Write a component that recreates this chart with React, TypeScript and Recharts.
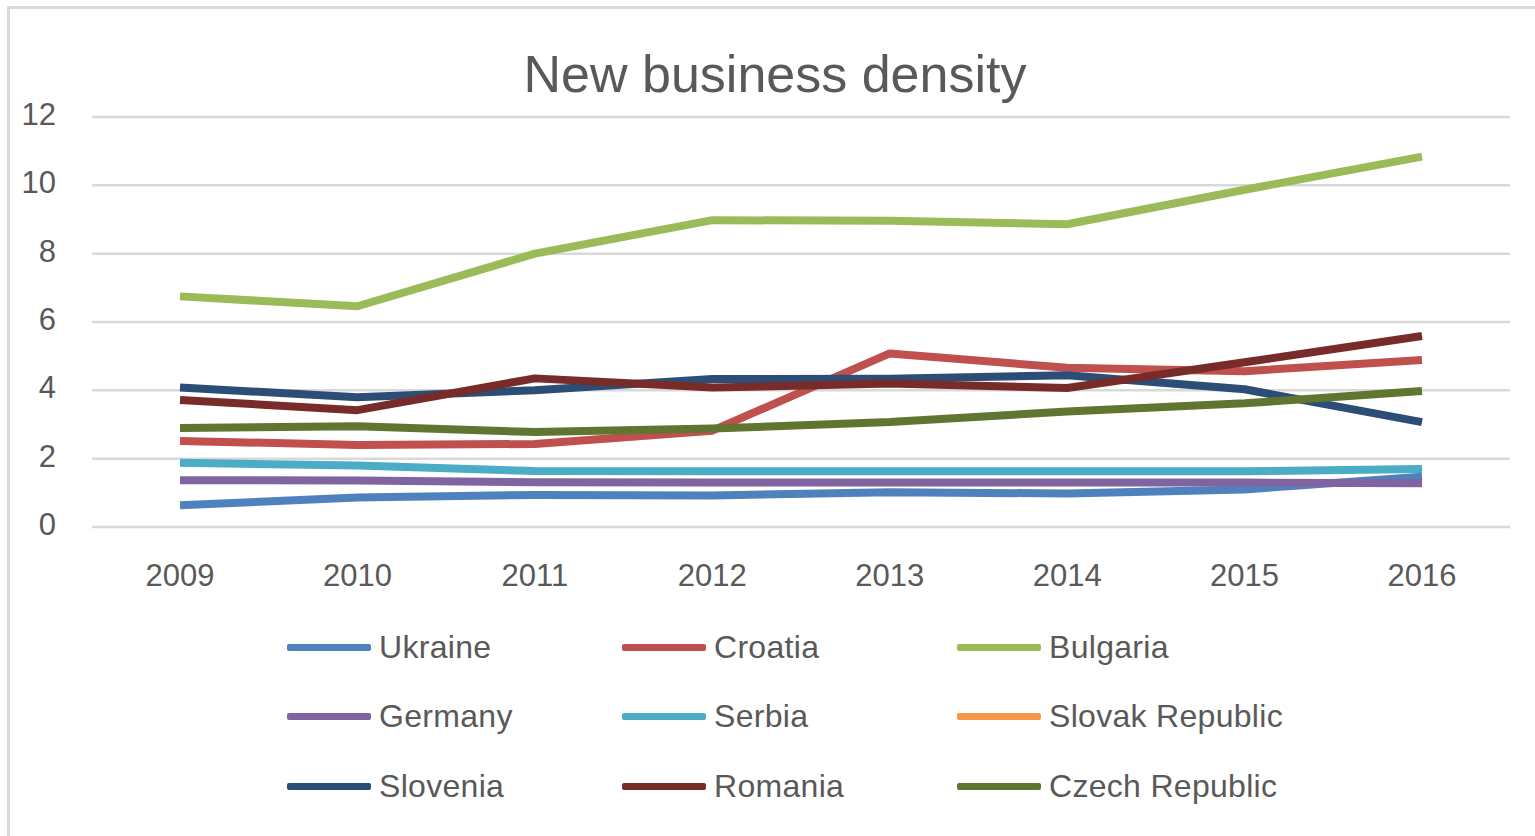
import React from 'react';
import { LineChart, Line, XAxis, YAxis, CartesianGrid, Legend } from 'recharts';

const years = ['2009', '2010', '2011', '2012', '2013', '2014', '2015', '2016'];

const ukraine = [0.64, 0.86, 0.94, 0.92, 1.02, 0.98, 1.1, 1.47];
const croatia = [2.52, 2.4, 2.43, 2.82, 5.08, 4.66, 4.56, 4.89];
const bulgaria = [6.75, 6.46, 8.0, 8.98, 8.96, 8.86, 9.87, 10.84];
const germany = [1.37, 1.36, 1.31, 1.3, 1.3, 1.3, 1.3, 1.28];
const serbia = [1.88, 1.8, 1.64, 1.63, 1.63, 1.63, 1.63, 1.7];
const slovakRepublic: (number | null)[] = [null, null, null, null, null, null, null, null];
const slovenia = [4.08, 3.8, 4.0, 4.33, 4.34, 4.44, 4.03, 3.07];
const romania = [3.72, 3.42, 4.35, 4.08, 4.2, 4.07, 4.82, 5.59];
const czechRepublic = [2.9, 2.95, 2.78, 2.88, 3.07, 3.38, 3.62, 3.98];

const yTicks = [0, 2, 4, 6, 8, 10, 12];

const series = [
  { key: 'Ukraine', values: ukraine, color: '#4F81BD' },
  { key: 'Croatia', values: croatia, color: '#C0504D' },
  { key: 'Bulgaria', values: bulgaria, color: '#9BBB59' },
  { key: 'Germany', values: germany, color: '#8064A2' },
  { key: 'Serbia', values: serbia, color: '#4BACC6' },
  { key: 'Slovak Republic', values: slovakRepublic, color: '#F79646' },
  { key: 'Slovenia', values: slovenia, color: '#2C4D75' },
  { key: 'Romania', values: romania, color: '#772C2A' },
  { key: 'Czech Republic', values: czechRepublic, color: '#5F7530' },
];

const data = years.map((year, i) => {
  const row: Record<string, any> = { year };
  series.forEach(s => { row[s.key] = s.values[i]; });
  return row;
});

const FONT = '"Liberation Sans", Arial, sans-serif';
const TEXT = '#595959';

// legend laid out in three columns, three rows like the original
const legendCols = [287, 622, 957];
const legendRows = [647, 716, 786];

const renderLegend = () => (
  <div style={{ position: 'relative', width: 0, height: 0 }}>
    {series.map((s, i) => {
      const left = legendCols[i % 3];
      const top = legendRows[Math.floor(i / 3)];
      return (
        <div key={s.key} style={{ position: 'absolute', left, top: top - 20, height: 40, display: 'flex', alignItems: 'center', whiteSpace: 'nowrap' }}>
          <div style={{ width: 84, height: 7, background: s.color, borderRadius: 2 }} />
          <span style={{ marginLeft: 8, fontSize: 32, letterSpacing: 0.3, color: TEXT, fontFamily: FONT }}>{s.key}</span>
        </div>
      );
    })}
  </div>
);

const App: React.FC = () => {
  return (
    <div style={{ position: 'absolute', left: 0, top: 0, width: 1535, height: 836, background: '#fff', overflow: 'hidden' }}>
      <div style={{ position: 'absolute', left: 7, top: 6, width: 1600, height: 900, borderLeft: '3px solid #d9d9d9', borderTop: '3px solid #d9d9d9' }} />
      <div style={{ position: 'absolute', left: 0, top: 48, width: 1550, textAlign: 'center', fontSize: 52, lineHeight: '52px', color: TEXT, fontFamily: FONT }}>
        New business density
      </div>
      <div style={{ position: 'absolute', left: 0, top: 0 }}>
        <LineChart width={1535} height={836} data={data} margin={{ top: 117, right: 25, bottom: 249, left: 0 }}>
          <CartesianGrid vertical={false} stroke="#d9d9d9" strokeWidth={2.5} />
          <XAxis
            dataKey="year"
            axisLine={false}
            tickLine={false}
            tickSize={0}
            tickMargin={37}
            height={60}
            padding={{ left: 88, right: 88 }}
            tick={{ fill: TEXT, fontSize: 31, fontFamily: FONT }}
          />
          <YAxis
            domain={[0, 12]}
            ticks={yTicks}
            width={92}
            axisLine={false}
            tickLine={false}
            tickSize={0}
            tickMargin={36}
            tick={{ fill: TEXT, fontSize: 31, fontFamily: FONT, dy: -3 }}
          />
          <Legend
            content={renderLegend}
            wrapperStyle={{ position: 'absolute', left: 0, top: 0, width: 0, height: 0 }}
          />
          {series.map(s => (
            <Line
              key={s.key}
              dataKey={s.key}
              stroke={s.color}
              strokeWidth={8}
              strokeLinecap="butt"
              strokeLinejoin="round"
              dot={false}
              activeDot={false}
              isAnimationActive={false}
            />
          ))}
        </LineChart>
      </div>
    </div>
  );
};

export default App;
